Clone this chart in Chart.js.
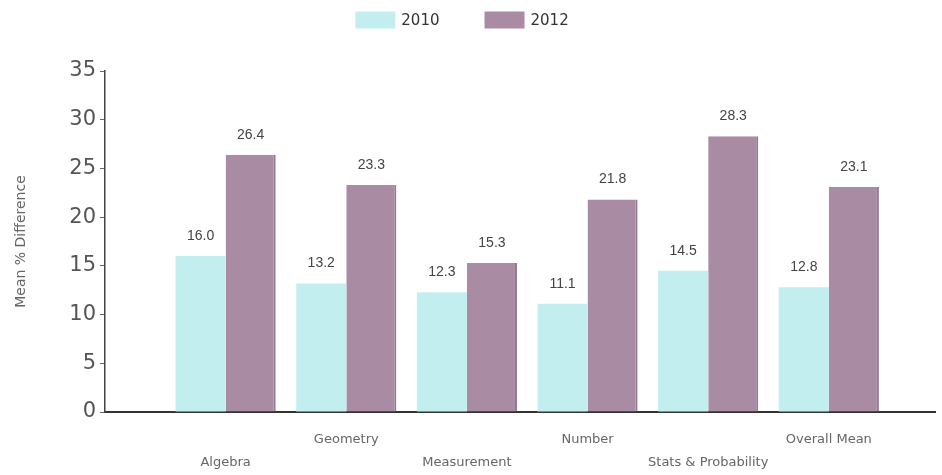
<!DOCTYPE html>
<html>
<head>
<meta charset="utf-8">
<script src="https://cdn.jsdelivr.net/npm/chart.js@4/dist/chart.umd.min.js"></script>
<style>
  html, body { margin: 0; padding: 0; background: #fff; }
  #wrap { width: 942px; height: 475px; }
</style>
</head>
<body>
<div id="wrap"><canvas id="chart"></canvas></div>
<script>
// mean % difference by strand
var categories = ['Algebra', 'Geometry', 'Measurement', 'Number', 'Stats & Probability', 'Overall Mean'];
var values2010 = [16.0, 13.2, 12.3, 11.1, 14.5, 12.8];
var values2012 = [26.4, 23.3, 15.3, 21.8, 28.3, 23.1];
var yTicks = [0, 5, 10, 15, 20, 25, 30, 35];

var cyan = '#c3eef0';
var mauve = '#a98ca3';

function points(vals) {
    return vals.map(function (v, i) { return { x: i, y: v }; });
}

// value printed above each bar
var barValues = {
    id: 'barValues',
    afterDatasetsDraw: function (chart) {
        var ctx = chart.ctx;
        ctx.save();
        ctx.font = '14px "Liberation Sans", Arial, sans-serif';
        ctx.fillStyle = '#444';
        ctx.textAlign = 'center';
        ctx.textBaseline = 'middle';
        chart.data.datasets.forEach(function (ds, di) {
            chart.getDatasetMeta(di).data.forEach(function (bar, i) {
                ctx.fillText(ds.data[i].y.toFixed(1), bar.x, bar.y - 20);
            });
        });
        ctx.restore();
    }
};

// simple legend row across the top
var topLegend = {
    id: 'topLegend',
    afterDraw: function (chart) {
        var ctx = chart.ctx;
        var boxW = 40, boxH = 17, gap = 6, itemGap = 45;
        ctx.save();
        ctx.font = '15px "DejaVu Sans", Verdana, sans-serif';
        var items = chart.data.datasets.map(function (ds) {
            return { text: ds.label, color: ds.backgroundColor, w: ctx.measureText(ds.label).width };
        });
        var total = 0;
        items.forEach(function (it, i) { total += boxW + gap + it.w + (i ? itemGap : 0); });
        var x = chart.width / 2 - 9 - total / 2;
        var y = 20;
        items.forEach(function (it) {
            ctx.fillStyle = it.color;
            ctx.fillRect(x, y - boxH / 2, boxW, boxH);
            ctx.fillStyle = '#333';
            ctx.textBaseline = 'middle';
            ctx.textAlign = 'left';
            ctx.fillText(it.text, x + boxW + gap, y + 1);
            x += boxW + gap + it.w + itemGap;
        });
        ctx.restore();
    }
};

new Chart(document.getElementById('chart'), {
    type: 'bar',
    data: {
        datasets: [{
            label: '2010',
            data: points(values2010),
            backgroundColor: cyan,
            borderWidth: 0
        }, {
            label: '2012',
            data: points(values2012),
            backgroundColor: mauve,
            borderColor: '#947890',
            borderWidth: { top: 0, left: 0, bottom: 0, right: 2 },
            borderSkipped: false
        }]
    },
    options: {
        responsive: true,
        maintainAspectRatio: false,
        animation: false,
        layout: { padding: { top: 71, right: 7, bottom: 0, left: 0 } },
        categoryPercentage: 0.83,
        barPercentage: 1.0,
        plugins: {
            legend: { display: false },
            tooltip: { enabled: false }
        },
        scales: {
            x: {
                type: 'linear',
                offset: false,
                min: -1,
                max: 5.88,
                afterFit: function (scale) { scale.height = 63; },
                grid: { display: false, drawTicks: false },
                border: { display: true, color: '#333', width: 2 },
                ticks: {
                    stepSize: 1,
                    includeBounds: false,
                    autoSkip: false,
                    maxRotation: 0,
                    padding: 17,
                    color: '#666',
                    font: { family: '"DejaVu Sans", Verdana, sans-serif', size: 13, lineHeight: 1.7 },
                    callback: function (v) {
                        var name = categories[v];
                        if (name === undefined) return '';
                        // alternate labels between two rows
                        return v % 2 === 0 ? ['', name] : [name, ''];
                    }
                }
            },
            y: {
                min: 0,
                max: 35,
                afterFit: function (scale) { scale.width = 105; },
                afterBuildTicks: function (scale) {
                    scale.ticks = yTicks.map(function (v) { return { value: v }; });
                },
                grid: { drawOnChartArea: false, drawTicks: true, tickLength: 5, color: '#666' },
                border: { display: true, color: '#444', width: 1.5 },
                ticks: {
                    padding: 4,
                    color: '#555',
                    font: { family: '"DejaVu Sans", Verdana, sans-serif', size: 21 }
                },
                title: {
                    display: true,
                    text: 'Mean % Difference',
                    color: '#666',
                    padding: { top: 13, bottom: 0 },
                    font: { family: '"DejaVu Sans", Verdana, sans-serif', size: 14 }
                }
            }
        }
    },
    plugins: [barValues, topLegend]
});
</script>
</body>
</html>
